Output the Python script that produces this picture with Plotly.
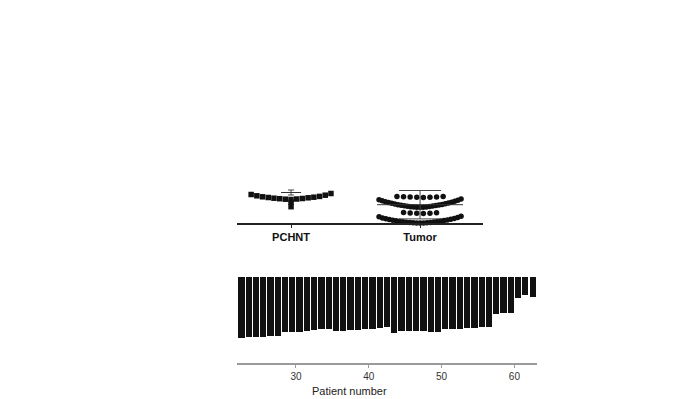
import plotly.graph_objects as go

# ---------------- data ----------------
groups = ["PCHNT", "Tumor"]

pchnt_values = [2.35, 2.38, 2.40, 2.43, 2.45, 2.48, 2.52, 2.55, 2.58, 2.62,
                2.66, 2.72, 2.78, 2.85, 2.95, 2.07, 1.63]

tumor_values = [
    # upper dots
    2.55, 2.57, 2.58, 2.60, 2.61, 2.62, 2.64, 2.66,
    # upper dense band
    1.57, 1.58, 1.58, 1.60, 1.61, 1.63, 1.65, 1.67, 1.69, 1.72, 1.74, 1.77, 1.80,
    1.83, 1.86, 1.90, 1.93, 1.97, 2.00, 2.05, 2.08, 2.13, 2.17, 2.22, 2.27, 2.33, 2.40,
    # middle dots
    0.95, 0.97, 0.98, 1.00, 1.02, 1.05,
    # lower dense band
    0.00, 0.01, 0.01, 0.02, 0.03, 0.05, 0.06, 0.08, 0.10, 0.12, 0.14, 0.17, 0.19,
    0.22, 0.25, 0.28, 0.31, 0.35, 0.38, 0.42, 0.46, 0.51, 0.56, 0.62, 0.68,
]

group_mean = [3.05, 1.83]
group_sd = [0.25, 1.42]

patients = list(range(22, 63))
waterfall_values = [
    -3.05, -3.02, -3.00, -2.98, -2.95, -2.93, -2.77, -2.75, -2.73, -2.70,
    -2.63, -2.62, -2.62, -2.68, -2.68, -2.67, -2.65, -2.62, -2.60, -2.57,
    -2.50, -2.80, -2.72, -2.70, -2.70, -2.68, -2.75, -2.75, -2.62, -2.60,
    -2.58, -2.57, -2.55, -2.52, -2.48, -1.83, -1.80, -1.78, -1.05, -0.92,
    -1.02,
]
waterfall_ticks = [30, 40, 50, 60]

# ---------------- layout helpers ----------------
W, H = 677, 399
PX_PER_UNIT_X_TOP = 129.0  # pixels per category unit in the top panel


def swarm_offsets(values, step_px, max_span_px, thresh):
    """Simple dot-plot layout: cluster close values, spread each cluster
    horizontally with the lowest value in the centre."""
    order = sorted(range(len(values)), key=lambda i: values[i])
    clusters, cur = [], []
    for idx in order:
        if cur and values[idx] - values[cur[-1]] > thresh:
            clusters.append(cur)
            cur = []
        cur.append(idx)
    if cur:
        clusters.append(cur)
    offs = [0.0] * len(values)
    for c in clusters:
        n = len(c)
        step = min(step_px, max_span_px / (n - 1)) if n > 1 else 0
        pos = []
        for j in range(n):
            k = (j + 1) // 2
            sign = -1 if j % 2 == 1 else 1
            pos.append(sign * k * step)
        m = sum(pos) / n
        for j, idx in enumerate(c):
            offs[idx] = (pos[j] - m) / PX_PER_UNIT_X_TOP
    return offs


p_off = swarm_offsets(pchnt_values, 5.7, 80, 0.12)
t_off = swarm_offsets(tumor_values, 6.6, 82, 0.12)

fig = go.Figure()

ink = "#111111"

fig.add_trace(go.Scatter(
    x=[1 + o for o in p_off], y=pchnt_values, mode="markers",
    marker=dict(symbol="square", size=5.5, color=ink, line=dict(width=0)),
    xaxis="x", yaxis="y", cliponaxis=False, showlegend=False,
))
fig.add_trace(go.Scatter(
    x=[2 + o for o in t_off], y=tumor_values, mode="markers",
    marker=dict(symbol="circle", size=5.5, color=ink, line=dict(width=0)),
    xaxis="x", yaxis="y", cliponaxis=False, showlegend=False,
))

# mean lines with SD error bars (line-ew symbol length = 1.4 * size)
mean_len_px = [20, 86]
cap_w = [3, 21]
for gi in range(2):
    fig.add_trace(go.Scatter(
        x=[gi + 1], y=[group_mean[gi]], mode="markers",
        marker=dict(symbol="line-ew", size=mean_len_px[gi] / 1.4, color="#333",
                    line=dict(width=1, color="#333")),
        error_y=dict(type="data", array=[group_sd[gi]], width=cap_w[gi],
                     thickness=1, color="#444"),
        xaxis="x", yaxis="y", cliponaxis=False, showlegend=False,
    ))

fig.add_trace(go.Bar(
    x=patients, y=waterfall_values, width=0.86, offset=0.07,
    marker=dict(color=ink, line=dict(width=0)),
    xaxis="x2", yaxis="y2", showlegend=False,
))

fig.update_layout(
    width=W, height=H,
    margin=dict(l=0, r=0, t=0, b=0),
    paper_bgcolor="white", plot_bgcolor="white",
    font=dict(family="Liberation Sans, Arial, sans-serif", color="#222"),
    xaxis=dict(
        domain=[237 / W, 483 / W], range=[0.581, 2.488],
        showline=True, linecolor="#222", linewidth=1.5,
        ticks="outside", ticklen=3, tickcolor="#222", tickwidth=1,
        tickvals=[1, 2], ticktext=["<b>%s</b>" % g for g in groups],
        tickfont=dict(size=11, color="#111"),
        showgrid=False, zeroline=False, anchor="y",
    ),
    yaxis=dict(
        domain=[1 - 223 / H, 1 - 180 / H], range=[0, 4.3],
        visible=False, showgrid=False, zeroline=False, anchor="x",
    ),
    xaxis2=dict(
        domain=[237 / W, 537 / W], range=[21.9, 63.1],
        showline=True, linecolor="#9a9a9a", linewidth=1.5,
        ticks="outside", ticklen=3, tickcolor="#9a9a9a", tickwidth=1,
        tickvals=waterfall_ticks, tickfont=dict(size=10, color="#333"),
        showgrid=False, zeroline=False, anchor="y2",
    ),
    yaxis2=dict(
        domain=[1 - 363 / H, 1 - 277 / H], range=[-4.3, 0],
        visible=False, showgrid=False, zeroline=False, anchor="x2",
    ),
    bargap=0,
    hovermode=False,
    annotations=[dict(
        text="Patient number", x=349 / W, y=1 - 391 / H, xref="paper", yref="paper",
        showarrow=False, font=dict(size=11, color="#222"),
        xanchor="center", yanchor="middle",
    )],
)

fig.write_html(
    "out.html",
    config={"displayModeBar": False, "staticPlot": True},
    post_script="document.body.style.margin='0';document.body.style.overflow='hidden';",
)
